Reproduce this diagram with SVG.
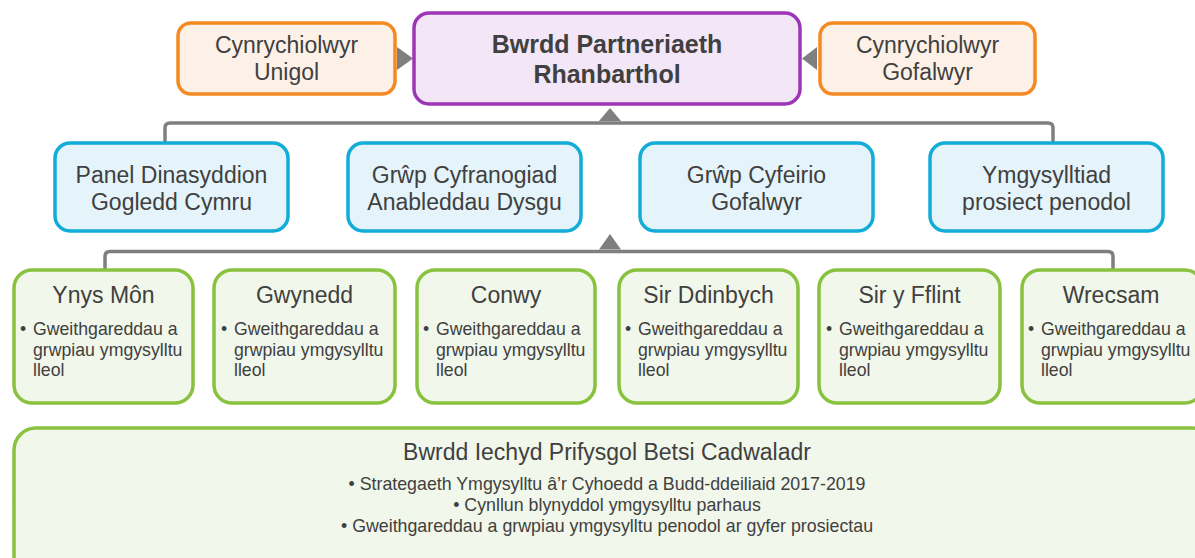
<svg xmlns="http://www.w3.org/2000/svg" width="1195" height="558" viewBox="0 0 1195 558">
<style>
text{font-family:"Liberation Sans",Arial,sans-serif;fill:#404040}
.t{font-size:23px;text-anchor:middle}
.b{font-size:25px;font-weight:bold;text-anchor:middle}
.g{font-size:23px;text-anchor:middle}
.h{font-size:23px;text-anchor:middle}
.s{font-size:17.7px}
.sc{font-size:17.8px;text-anchor:middle}
.org{fill:#FDF1E7;stroke:#F58A22;stroke-width:3.5}
.pur{fill:#F3E6F6;stroke:#9D36B6;stroke-width:3.5}
.blu{fill:#E4F4FA;stroke:#12ACD8;stroke-width:3.5}
.grn{fill:#F1F7EA;stroke:#88C23E;stroke-width:3.5}
.ln{fill:none;stroke:#7F7F7F;stroke-width:3.5}
.ar{fill:#7F7F7F}
</style>
<rect width="1195" height="558" fill="#FFFFFF"/>
<g id="connectors">
<path class="ln" d="M165,142 V128 Q165,123 170,123 H1048 Q1053,123 1053,128 V142"/>
<polygon class="ar" points="599,121 610,108 621,121"/>
<path class="ln" d="M105,269 V256.5 Q105,251.5 110,251.5 H1108 Q1113,251.5 1113,256.5 V269"/>
<polygon class="ar" points="599,249.5 610,234 621,249.5"/>
<polygon class="ar" points="397,47 413,58.5 397,70"/>
<polygon class="ar" points="817,47 802,58.5 817,70"/>
</g>
<g id="node-unigol">
<rect class="org" x="178" y="23" width="217" height="71" rx="13"/>
<text class="t" x="286.5" y="52.5">Cynrychiolwyr</text>
<text class="t" x="286.5" y="79.5">Unigol</text>
</g>
<g id="node-bwrdd">
<rect class="pur" x="414" y="13" width="386" height="91" rx="15"/>
<text class="b" x="607" y="53">Bwrdd Partneriaeth</text>
<text class="b" x="607" y="82.5">Rhanbarthol</text>
</g>
<g id="node-gofalwyr">
<rect class="org" x="820" y="23" width="215" height="71" rx="13"/>
<text class="t" x="927.5" y="52.5">Cynrychiolwyr</text>
<text class="t" x="927.5" y="79.5">Gofalwyr</text>
</g>
<g id="node-panel">
<rect class="blu" x="55" y="143" width="233" height="88" rx="15"/>
<text class="t" x="171.5" y="182.5">Panel Dinasyddion</text>
<text class="t" x="171.5" y="209.5">Gogledd Cymru</text>
</g>
<g id="node-cyfranogiad">
<rect class="blu" x="348" y="143" width="233" height="88" rx="15"/>
<text class="t" x="464.5" y="182.5">Grŵp Cyfranogiad</text>
<text class="t" x="464.5" y="209.5">Anableddau Dysgu</text>
</g>
<g id="node-cyfeirio">
<rect class="blu" x="640" y="143" width="233" height="88" rx="15"/>
<text class="t" x="756.5" y="182.5">Grŵp Cyfeirio</text>
<text class="t" x="756.5" y="209.5">Gofalwyr</text>
</g>
<g id="node-ymgysylltiad">
<rect class="blu" x="930" y="143" width="233" height="88" rx="15"/>
<text class="t" x="1046.5" y="182.5">Ymgysylltiad</text>
<text class="t" x="1046.5" y="209.5">prosiect penodol</text>
</g>
<g id="node-ynys-mon">
<rect class="grn" x="14" y="270" width="179" height="133" rx="18"/>
<text class="g" x="103.5" y="303">Ynys Môn</text>
<text class="s" x="20" y="335">•</text>
<text class="s" x="33" y="335">Gweithgareddau a</text>
<text class="s" x="33" y="355.5">grwpiau ymgysylltu</text>
<text class="s" x="33" y="376">lleol</text>
</g>
<g id="node-gwynedd">
<rect class="grn" x="214" y="270" width="181" height="133" rx="18"/>
<text class="g" x="304.5" y="303">Gwynedd</text>
<text class="s" x="221" y="335">•</text>
<text class="s" x="234" y="335">Gweithgareddau a</text>
<text class="s" x="234" y="355.5">grwpiau ymgysylltu</text>
<text class="s" x="234" y="376">lleol</text>
</g>
<g id="node-conwy">
<rect class="grn" x="417" y="270" width="178" height="133" rx="18"/>
<text class="g" x="506" y="303">Conwy</text>
<text class="s" x="423" y="335">•</text>
<text class="s" x="436" y="335">Gweithgareddau a</text>
<text class="s" x="436" y="355.5">grwpiau ymgysylltu</text>
<text class="s" x="436" y="376">lleol</text>
</g>
<g id="node-sir-ddinbych">
<rect class="grn" x="619" y="270" width="179" height="133" rx="18"/>
<text class="g" x="708.5" y="303">Sir Ddinbych</text>
<text class="s" x="625" y="335">•</text>
<text class="s" x="638" y="335">Gweithgareddau a</text>
<text class="s" x="638" y="355.5">grwpiau ymgysylltu</text>
<text class="s" x="638" y="376">lleol</text>
</g>
<g id="node-sir-y-fflint">
<rect class="grn" x="819" y="270" width="181" height="133" rx="18"/>
<text class="g" x="909.5" y="303">Sir y Fflint</text>
<text class="s" x="826" y="335">•</text>
<text class="s" x="839" y="335">Gweithgareddau a</text>
<text class="s" x="839" y="355.5">grwpiau ymgysylltu</text>
<text class="s" x="839" y="376">lleol</text>
</g>
<g id="node-wrecsam">
<rect class="grn" x="1022" y="270" width="181" height="133" rx="18"/>
<text class="g" x="1111" y="303">Wrecsam</text>
<text class="s" x="1028" y="335">•</text>
<text class="s" x="1041" y="335">Gweithgareddau a</text>
<text class="s" x="1041" y="355.5">grwpiau ymgysylltu</text>
<text class="s" x="1041" y="376">lleol</text>
</g>
<g id="node-betsi">
<rect class="grn" x="14" y="428" width="1200" height="150" rx="22"/>
<text class="h" x="607" y="460">Bwrdd Iechyd Prifysgol Betsi Cadwaladr</text>
<text class="sc" x="607" y="490">• Strategaeth Ymgysylltu â’r Cyhoedd a Budd-ddeiliaid 2017-2019</text>
<text class="sc" x="607" y="511">• Cynllun blynyddol ymgysylltu parhaus</text>
<text class="sc" x="607" y="532">• Gweithgareddau a grwpiau ymgysylltu penodol ar gyfer prosiectau</text>
</g>
</svg>
